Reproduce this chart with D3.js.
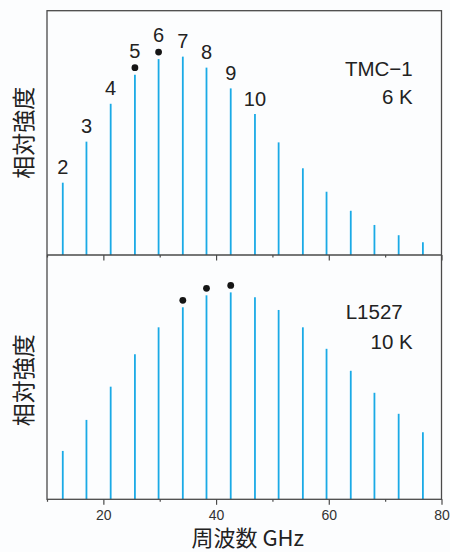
<!DOCTYPE html>
<html>
<head>
<meta charset="utf-8">
<script src="https://cdn.jsdelivr.net/npm/d3@7"></script>
<style>
  html, body { margin: 0; padding: 0; background: #fcfdfe; }
  svg { display: block; }
</style>
</head>
<body>
<svg id="chart" width="450" height="552"></svg>
<script>
// line frequencies (GHz), same for both sources
var freqs = [12.8, 17.0, 21.3, 25.6, 29.8, 34.1, 38.3, 42.6, 46.9, 51.1, 55.4, 59.6, 63.9, 68.1, 72.4, 76.7];
// relative intensities (percent of panel height)
var tmc1 = [29.6, 46.4, 61.9, 73.8, 80.2, 81.2, 76.7, 68.2, 57.7, 46.1, 35.5, 25.9, 18.1, 12.3, 8.1, 5.2];
var l1527 = [19.8, 32.5, 46.1, 59.4, 70.4, 78.6, 83.5, 84.7, 82.7, 77.5, 70.4, 61.6, 52.6, 43.6, 35.0, 27.4];
// quantum number labels on the first panel
var tmcLabels = ["2", "3", "4", "5", "6", "7", "8", "9", "10"];
// lines marked with a dot (indices)
var tmcDots = [3, 4];
var l1527Dots = [5, 6, 7];
var xTicks = [10, 20, 30, 40, 50, 60, 70, 80];

var left = 47, right = 441.5, top1 = 10.7, mid = 255, bottom = 499.3;
var lineColor = "#1aaae6", frameColor = "#4a4a4a";

var svg = d3.select("#chart");

var x = d3.scaleLinear().domain([10, 80]).range([left, right]);

var panels = [
    {values: tmc1, dots: tmcDots, top: top1, bot: mid, name: "TMC\u22121", temp: "6 K",
     nameX: 412.7, nameY: 75.7, tempX: 412.7, tempY: 104.3},
    {values: l1527, dots: l1527Dots, top: mid, bot: bottom, name: "L1527", temp: "10 K",
     nameX: 402.7, nameY: 319, tempX: 412.7, tempY: 349}
];

panels.forEach(function(p, pi){
    var y = d3.scaleLinear().domain([0, 100]).range([p.bot, p.top]);
    p.y = y;
    var g = svg.append("g");

    g.selectAll("line.peak")
        .data(freqs)
        .enter()
        .append("line")
        .attr("class", "peak")
        .attr("x1", function(d){ return x(d); })
        .attr("x2", function(d){ return x(d); })
        .attr("y1", y(0))
        .attr("y2", function(d, i){ return y(p.values[i]); })
        .attr("stroke", lineColor)
        .attr("stroke-width", 1.8);

    g.selectAll("circle")
        .data(p.dots)
        .enter()
        .append("circle")
        .attr("cx", function(i){ return x(freqs[i]); })
        .attr("cy", function(i){ return y(p.values[i]) - 7; })
        .attr("r", 3.4)
        .attr("fill", "#151515");

    g.append("text")
        .attr("x", p.nameX).attr("y", p.nameY)
        .attr("text-anchor", "end")
        .attr("font-family", "Liberation Sans, Arial, sans-serif")
        .attr("font-size", 20.5)
        .attr("fill", "#222")
        .text(p.name);
    g.append("text")
        .attr("x", p.tempX).attr("y", p.tempY)
        .attr("text-anchor", "end")
        .attr("font-family", "Liberation Sans, Arial, sans-serif")
        .attr("font-size", 20.5)
        .attr("fill", "#222")
        .text(p.temp);

    // y label
    var cy = (p.top + p.bot) / 2 + (pi === 0 ? 0 : 3);
    g.append("text")
        .attr("transform", "translate(22," + cy + ") rotate(-90)")
        .attr("text-anchor", "middle")
        .attr("dominant-baseline", "central")
        .attr("font-family", "Noto Sans CJK JP, sans-serif")
        .attr("font-size", 23)
        .attr("fill", "#222")
        .text("相対強度");

    // x axis ticks at the bottom of each panel
    var axis = d3.axisBottom(x)
        .tickValues(xTicks)
        .tickSize(0)
        .tickFormat(function(d){ return (pi === 1 && d % 20 === 0) ? d : ""; });
    var ax = g.append("g")
        .attr("transform", "translate(0," + p.bot + ")")
        .call(axis);
    ax.select(".domain").remove();
    ax.selectAll(".tick line")
        .attr("y2", function(d){ return d % 20 === 0 ? 5.5 : 2.5; })
        .attr("stroke", frameColor)
        .attr("stroke-width", 1.2);
    ax.selectAll(".tick text")
        .attr("y", 11)
        .attr("font-family", "Liberation Sans, Arial, sans-serif")
        .attr("font-size", 14)
        .attr("fill", "#333");
});

// quantum number labels for TMC-1
var p0 = panels[0];
svg.append("g").selectAll("text")
    .data(tmcLabels)
    .enter()
    .append("text")
    .attr("x", function(d, i){ return x(freqs[i]); })
    .attr("y", function(d, i){
        var t = p0.y(tmc1[i]) - 8.5;
        if (tmcDots.indexOf(i) >= 0) t -= 8.5;
        return t;
    })
    .attr("text-anchor", "middle")
    .attr("font-family", "Liberation Sans Narrow, Liberation Sans, Arial, sans-serif")
    .attr("font-size", 20)
    .attr("fill", "#222")
    .text(function(d){ return d; });

// frame
svg.append("rect")
    .attr("x", left).attr("y", top1)
    .attr("width", right - left).attr("height", bottom - top1)
    .attr("fill", "none")
    .attr("stroke", frameColor)
    .attr("stroke-width", 1.3);
svg.append("line")
    .attr("x1", left).attr("x2", right)
    .attr("y1", mid).attr("y2", mid)
    .attr("stroke", frameColor)
    .attr("stroke-width", 1.3);

// x label
svg.append("text")
    .attr("x", 191.5).attr("y", 546)
    .attr("font-family", "Noto Sans CJK JP, sans-serif")
    .attr("font-size", 22)
    .attr("fill", "#222")
    .text("周波数 GHz");
</script>
</body>
</html>
